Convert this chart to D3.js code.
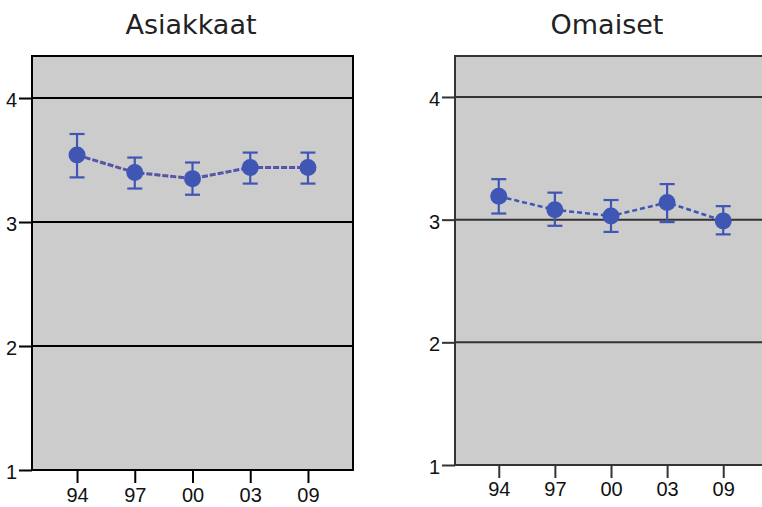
<!DOCTYPE html>
<html>
<head>
<meta charset="utf-8">
<script src="https://cdn.jsdelivr.net/npm/d3@7"></script>
<style>
  body { margin: 0; background: #fff; }
  svg { display: block; }
</style>
</head>
<body>
<div id="chart"></div>
<script>
// survey years (x categories)
const years = ['94', '97', '00', '03', '09']
const yTicks = [1, 2, 3, 4]

// Asiakkaat: mean and 95% CI
const asiakkaatMean = [3.54, 3.40, 3.35, 3.44, 3.44]
const asiakkaatLow  = [3.36, 3.27, 3.22, 3.31, 3.31]
const asiakkaatHigh = [3.71, 3.52, 3.48, 3.56, 3.56]

// Omaiset: mean and 95% CI
const omaisetMean = [3.19, 3.08, 3.03, 3.14, 2.99]
const omaisetLow  = [3.05, 2.95, 2.90, 2.98, 2.88]
const omaisetHigh = [3.33, 3.22, 3.16, 3.29, 3.11]

const width = 762, height = 507
const blue = '#3f56b4'

var svg = d3.select('#chart').append('svg')
    .attr('width', width)
    .attr('height', height)

// one panel per respondent group
function drawPanel(opts) {
    var g = svg.append('g')

    var x = d3.scalePoint()
        .domain(years)
        .range([opts.left, opts.right])
        .padding(0.78)

    var y = d3.scaleLinear()
        .domain([1, opts.yMax])
        .range([opts.bottom, opts.top])

    g.append('text')
        .attr('x', opts.titleX)
        .attr('y', 34)
        .attr('text-anchor', 'middle')
        .attr('font-family', 'DejaVu Sans, Verdana, sans-serif')
        .attr('font-size', 27)
        .attr('fill', '#222')
        .text(opts.title)

    // plot background
    g.append('rect')
        .attr('x', opts.left)
        .attr('y', opts.top)
        .attr('width', opts.right - opts.left)
        .attr('height', opts.bottom - opts.top)
        .attr('fill', '#cccccc')

    // gridlines
    g.selectAll('line.grid')
        .data(yTicks.filter(function (t) { return t > 1 }))
        .enter().append('line')
        .attr('class', 'grid')
        .attr('x1', opts.left)
        .attr('x2', opts.right)
        .attr('y1', function (d) { return y(d) })
        .attr('y2', function (d) { return y(d) })
        .attr('stroke', opts.lineColor)
        .attr('stroke-width', 2)

    // y axis
    var yAxis = g.append('g')
        .attr('transform', 'translate(' + opts.left + ',0)')
        .call(d3.axisLeft(y).tickValues(yTicks).tickFormat(d3.format('d')).tickSize(13).tickPadding(2))
    yAxis.select('.domain').remove()
    yAxis.selectAll('.tick text').attr('dy', '0.42em')

    // x axis
    var xAxis = g.append('g')
        .attr('transform', 'translate(0,' + opts.bottom + ')')
        .call(d3.axisBottom(x).tickSize(13).tickPadding(opts.xPad))
    xAxis.select('.domain').remove()

    g.selectAll('.tick line')
        .attr('stroke', opts.lineColor)
        .attr('stroke-width', 2)
    g.selectAll('.tick text')
        .attr('font-family', opts.tickFont)
        .attr('font-size', 20)
        .attr('fill', '#111')

    // plot frame
    g.append('rect')
        .attr('x', opts.left)
        .attr('y', opts.top)
        .attr('width', opts.right - opts.left)
        .attr('height', opts.bottom - opts.top)
        .attr('fill', 'none')
        .attr('stroke', opts.lineColor)
        .attr('stroke-width', 2)

    var pts = years.map(function (yr, i) {
        return { year: yr, mean: opts.mean[i], lo: opts.low[i], hi: opts.high[i] }
    })

    var line = d3.line()
        .x(function (d) { return x(d.year) })
        .y(function (d) { return y(d.mean) })

    g.append('path')
        .datum(pts)
        .attr('d', line)
        .attr('fill', 'none')
        .attr('stroke', blue)
        .attr('stroke-width', opts.overlay ? 3 : 2.5)
        .attr('stroke-dasharray', opts.overlay ? '6,2' : '5,3')

    if (opts.overlay) {
        g.append('path')
            .datum(pts)
            .attr('d', line)
            .attr('fill', 'none')
            .attr('stroke', '#a04a7a')
            .attr('stroke-width', 1)
            .attr('stroke-dasharray', '5,3')
            .attr('stroke-opacity', 0.8)
    }

    // error bars
    var bars = g.selectAll('g.err').data(pts).enter().append('g')
        .attr('class', 'err')
        .attr('stroke', blue)
        .attr('stroke-width', 2.2)
    bars.append('line')
        .attr('x1', function (d) { return x(d.year) })
        .attr('x2', function (d) { return x(d.year) })
        .attr('y1', function (d) { return y(d.lo) })
        .attr('y2', function (d) { return y(d.hi) })
    bars.append('line')
        .attr('x1', function (d) { return x(d.year) - 7.5 })
        .attr('x2', function (d) { return x(d.year) + 7.5 })
        .attr('y1', function (d) { return y(d.hi) })
        .attr('y2', function (d) { return y(d.hi) })
    bars.append('line')
        .attr('x1', function (d) { return x(d.year) - 7.5 })
        .attr('x2', function (d) { return x(d.year) + 7.5 })
        .attr('y1', function (d) { return y(d.lo) })
        .attr('y2', function (d) { return y(d.lo) })

    g.selectAll('circle.pt').data(pts).enter().append('circle')
        .attr('class', 'pt')
        .attr('cx', function (d) { return x(d.year) })
        .attr('cy', function (d) { return y(d.mean) })
        .attr('r', 8.5)
        .attr('fill', blue)
}

drawPanel({
    title: 'Asiakkaat', titleX: 191,
    left: 32, right: 353, top: 56, bottom: 470, yMax: 4.339, xPad: 5,
    mean: asiakkaatMean, low: asiakkaatLow, high: asiakkaatHigh,
    lineColor: '#000', tickFont: 'Liberation Sans, Arial, sans-serif', overlay: true
})

drawPanel({
    title: 'Omaiset', titleX: 607,
    left: 455, right: 767, top: 56, bottom: 465, yMax: 4.334, xPad: 4,
    mean: omaisetMean, low: omaisetLow, high: omaisetHigh,
    lineColor: '#333', tickFont: 'Liberation Sans Narrow, Liberation Sans, Arial, sans-serif', overlay: false
})
</script>
</body>
</html>
